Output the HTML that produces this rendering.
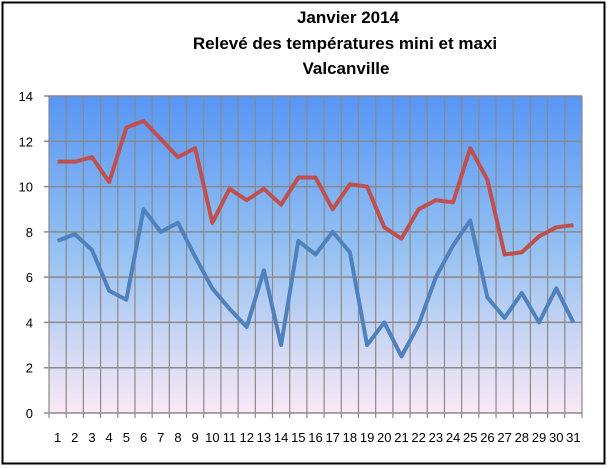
<!DOCTYPE html>
<html><head><meta charset="utf-8"><style>
body{margin:0;background:#fff;}
svg{display:block;font-family:"Liberation Sans",sans-serif;}
</style></head><body>
<svg id="chart" width="609" height="468" viewBox="0 0 609 468">
<defs><linearGradient id="bg" x1="0" y1="0" x2="0" y2="1">
<stop offset="0" stop-color="#5796f5"/><stop offset="0.5" stop-color="#97c2f2"/><stop offset="1" stop-color="#fbe8f6"/></linearGradient></defs>
<rect x="2.5" y="2.5" width="602" height="461" fill="#fff" stroke="#000" stroke-width="2"/>
<g font-weight="bold" font-size="17" text-anchor="middle" fill="#000">
<text x="348" y="23">Janvier 2014</text>
<text x="345" y="49">Relevé des températures mini et maxi</text>
<text x="346" y="74">Valcanville</text>
</g>
<rect x="49" y="96" width="533" height="317" fill="url(#bg)"/>
<g id="grid"></g><g id="axes"></g><g id="series"></g>
</svg>
<script>
const days=[];for(let i=1;i<=31;i++)days.push(String(i));
const tmax=[11.1,11.1,11.3,10.2,12.6,12.9,12.1,11.3,11.7,8.4,9.9,9.4,9.9,9.2,10.4,10.4,9.0,10.1,10.0,8.2,7.7,9.0,9.4,9.3,11.7,10.3,7.0,7.1,7.8,8.2,8.3];
const tmin=[7.6,7.9,7.2,5.4,5.0,9.0,8.0,8.4,6.9,5.5,4.6,3.8,6.3,3.0,7.6,7.0,8.0,7.1,3.0,4.0,2.5,3.9,6.0,7.4,8.5,5.1,4.2,5.3,4.0,5.5,4.0];
const yTicks=[0,2,4,6,8,10,12,14];
const L=49,R=582,T=96,B=413,NS="http://www.w3.org/2000/svg";
const bw=(R-L)/days.length;
const x=i=>L+bw*(i+0.5);
const y=v=>B-(v/14)*(B-T);
function mk(tag,attrs,parent){const e=document.createElementNS(NS,tag);for(const k in attrs)e.setAttribute(k,attrs[k]);parent.appendChild(e);return e;}
const grid=document.getElementById('grid'),axes=document.getElementById('axes'),series=document.getElementById('series');
yTicks.forEach(t=>{
 const l=mk('line',{x1:L-5,x2:R,y1:y(t),y2:y(t),stroke:'#8a8a8a','stroke-width':1.5},grid);
 
 
 const tx=mk('text',{x:33,y:y(t)+5,'font-size':13,'text-anchor':'end',fill:'#000'},axes);
 tx.textContent=t;
 
 
});
for(let i=0;i<=days.length;i++){
 const xx=L+bw*i;
 const l=mk('line',{x1:xx,x2:xx,y1:T,y2:B+5,stroke:'#8a8a8a','stroke-width':1.2},grid);
 
 
}
days.forEach((d,i)=>{
 const tx=mk('text',{x:x(i),y:442,'font-size':13,'text-anchor':'middle',fill:'#000'},axes);
 tx.textContent=d;
 
 
});
function line(vals,col,name){
 const p=mk('polyline',{points:vals.map((v,i)=>x(i)+','+y(v)).join(' '),fill:'none',stroke:col,'stroke-width':4,'stroke-linejoin':'round'},series);
 
 
}
line(tmax,'#c0504d','max-temperature-line');
line(tmin,'#4f81bd','min-temperature-line');
</script>
</body></html>
